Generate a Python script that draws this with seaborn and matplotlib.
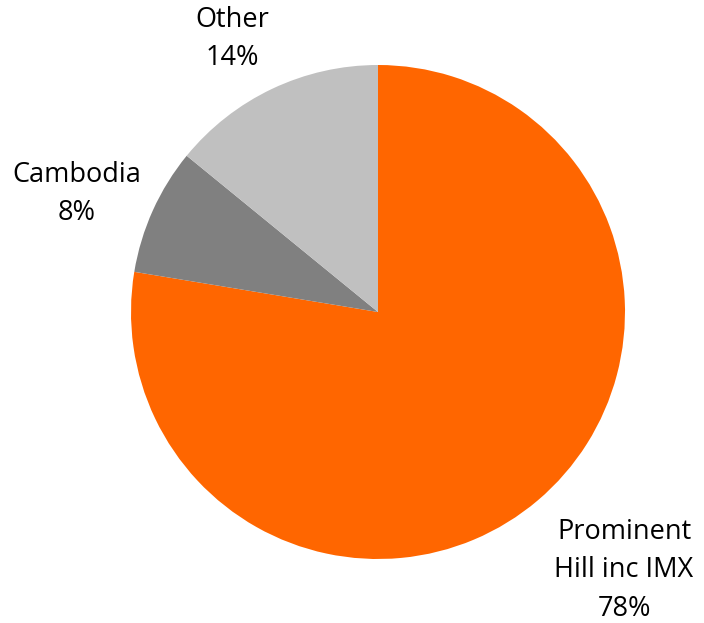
import matplotlib
matplotlib.use("Agg")
import matplotlib.pyplot as plt
import seaborn as sns

sns.set_theme(style="white")
plt.rcParams['font.family'] = ['Open Sans', 'DejaVu Sans']

categories = ["Prominent\nHill inc IMX", "Cambodia", "Other"]
values = [77.6, 8.3, 14.1]
pct_labels = ["78%", "8%", "14%"]
colors = ["#FF6600", "#808080", "#C0C0C0"]
label_pos = [(0.996, -1.045), (-1.219, 0.478), (-0.591, 1.105)]

W, H = 704, 623
cx, cy, r = 378, 312, 247

fig = plt.figure(figsize=(W / 100, H / 100), dpi=100)
ax = fig.add_axes([0, 0, 1, 1])
ax.pie(values, colors=colors, startangle=90, counterclock=False,
       radius=1, wedgeprops=dict(linewidth=0))
for cat, p, (x, y) in zip(categories, pct_labels, label_pos):
    ax.text(x, y, f"{cat}\n{p}", ha="center", va="center", fontsize=19.5,
            color="#000000", linespacing=1.5)
ax.set_xlim(-cx / r, (W - cx) / r)
ax.set_ylim(-(H - cy) / r, cy / r)
ax.set_aspect("equal")
ax.axis("off")
fig.savefig("out.png", dpi=100)
